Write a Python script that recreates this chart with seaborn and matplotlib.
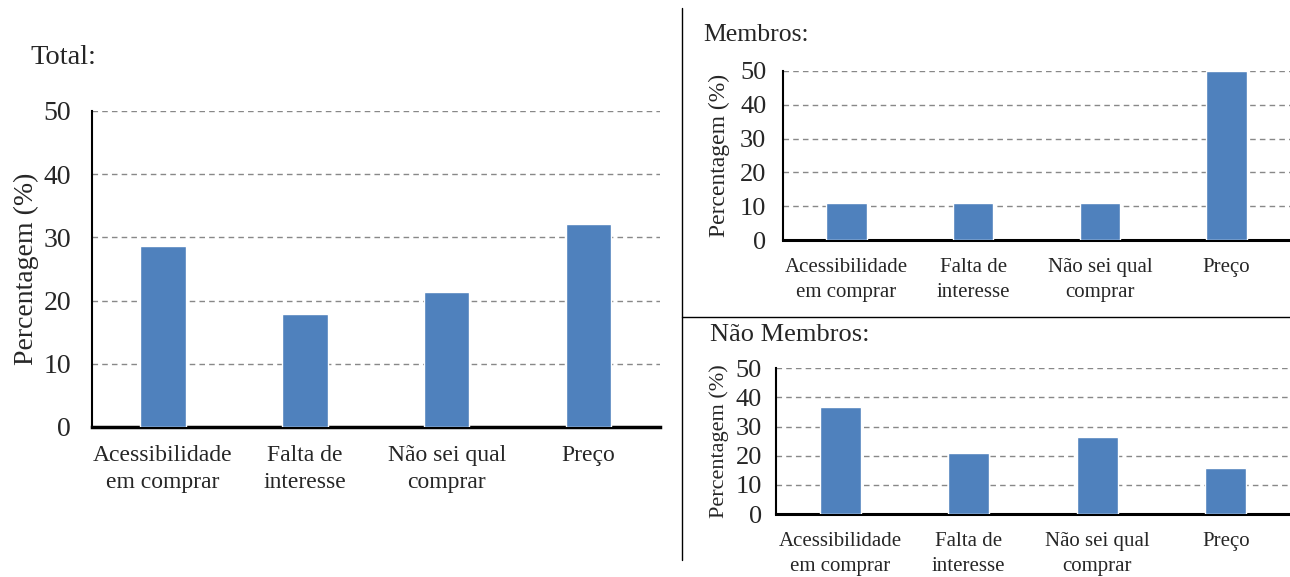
import matplotlib
matplotlib.use("Agg")
import matplotlib.pyplot as plt
from matplotlib.lines import Line2D
import seaborn as sns

categorias = ["Acessibilidade\nem comprar", "Falta de\ninteresse", "Não sei qual\ncomprar", "Preço"]
total = [28.6, 17.9, 21.4, 32.1]
membros = [11.1, 11.1, 11.1, 50.0]
nao_membros = [36.8, 21.1, 26.3, 15.8]
yticks = [0, 10, 20, 30, 40, 50]

BAR_COLOR = "#4F81BD"

sns.set_style("white")
plt.rcParams["font.family"] = ["Liberation Serif", "DejaVu Serif"]


def draw(ax, values, ytick_size, xtick_size, ylabel_size, ypad, xpad, lw_bottom, lpad):
    sns.barplot(x=categorias, y=values, color=BAR_COLOR, width=0.32,
                saturation=1, ax=ax, zorder=3)
    ax.set_ylim(0, 50)
    ax.set_xlim(-0.5, 3.5)
    ax.set_yticks(yticks)
    ax.set_yticklabels([str(v) for v in yticks], fontsize=ytick_size)
    ax.tick_params(axis="y", length=0, pad=ypad)
    ax.tick_params(axis="x", length=0, pad=xpad, labelsize=xtick_size)
    for lbl in ax.get_xticklabels():
        lbl.set_linespacing(1.4)
    ax.yaxis.grid(True, color="#888888", linestyle=(0, (4, 3)), linewidth=1)
    ax.set_axisbelow(True)
    for s in ["top", "right"]:
        ax.spines[s].set_visible(False)
    ax.spines["left"].set_color("black")
    ax.spines["left"].set_linewidth(1.5)
    ax.spines["bottom"].set_color("black")
    ax.spines["bottom"].set_linewidth(lw_bottom)
    ax.set_ylabel("Percentagem (%)", fontsize=ylabel_size, labelpad=lpad)
    ax.set_xlabel("")


fig = plt.figure(figsize=(12.9, 5.77), dpi=100)

ax1 = fig.add_axes([0.0713, 0.260, 0.440, 0.548])
draw(ax1, total, 20, 17, 20, 15, 13, 2.5, 3)
fig.text(30 / 1290, 1 - 57 / 577, "Total:", fontsize=20.5, va="center", ha="left")

ax2 = fig.add_axes([0.607, 0.584, 0.393, 0.293])
draw(ax2, membros, 19, 15, 17, 12, 13, 2.2, 7)
fig.text(703 / 1290, 1 - 35 / 577, "Membros:", fontsize=18.5, va="center", ha="left")

ax3 = fig.add_axes([0.6015, 0.109, 0.3985, 0.253])
draw(ax3, nao_membros, 19, 15, 16, 10, 13, 2.2, 5)
fig.text(710 / 1290, 1 - 335 / 577, "Não Membros:", fontsize=19, va="center", ha="left")

# divisórias
fig.add_artist(Line2D([682 / 1290, 682 / 1290], [1 - 8 / 577, 1 - 560 / 577],
                      color="black", linewidth=1))
fig.add_artist(Line2D([682 / 1290, 1.0], [1 - 317 / 577, 1 - 317 / 577],
                      color="black", linewidth=1))

fig.savefig("out.png", dpi=100)
